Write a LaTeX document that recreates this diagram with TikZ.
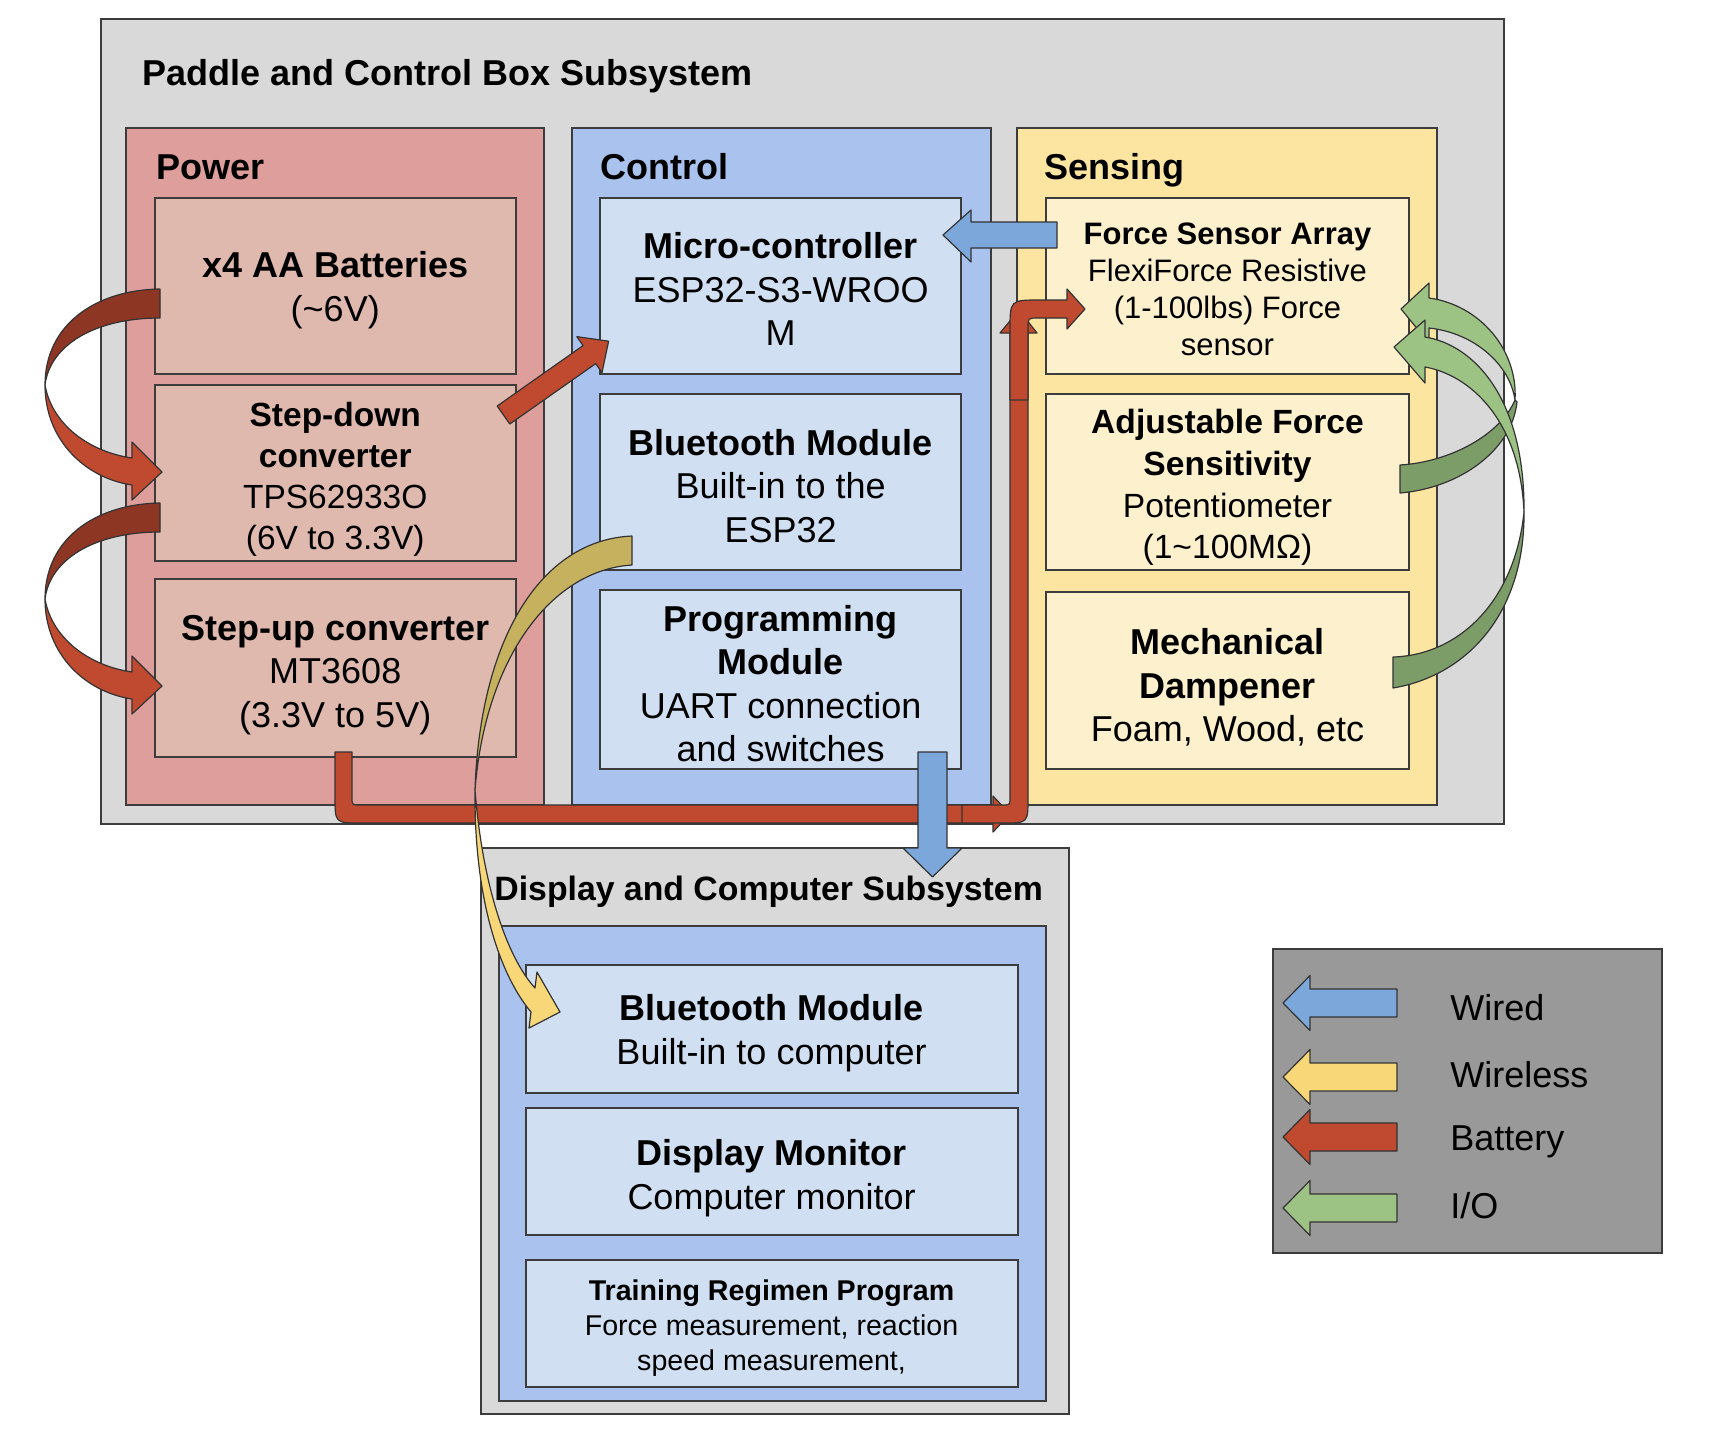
\documentclass[tikz,border=0pt]{standalone}
\usepackage{fontspec}
\setmainfont{Liberation Sans}
\usetikzlibrary{fit}
\definecolor{outergray}{HTML}{D9D9D9}
\definecolor{bordc}{HTML}{3C3C3C}
\definecolor{powbg}{HTML}{DE9E9B}
\definecolor{pownode}{HTML}{DFB8AE}
\definecolor{ctlbg}{HTML}{A9C2EE}
\definecolor{ctlnode}{HTML}{D0DFF1}
\definecolor{senbg}{HTML}{FCE5A1}
\definecolor{sennode}{HTML}{FDF0CD}
\definecolor{leggray}{HTML}{999999}
\definecolor{arblue}{HTML}{7BA7DA}
\definecolor{aryellow}{HTML}{F8D778}
\definecolor{aryellowdk}{HTML}{C6B15E}
\definecolor{arred}{HTML}{C04A30}
\definecolor{arreddk}{HTML}{8E3624}
\definecolor{argreen}{HTML}{9DC384}
\definecolor{argreendk}{HTML}{7D9D68}
\newcommand{\legarrow}[2]{%
  \path[ashape, fill=#1] (1397,{#2-14}) -- (1310,{#2-14}) -- (1310,{#2-27.5}) -- (1283,#2) -- (1310,{#2+27.5}) -- (1310,{#2+14}) -- (1397,{#2+14}) -- cycle;}
\newcommand{\redcurl}{%
  \path[ashape, fill=arreddk] (160,289) .. controls (95,290) and (45,325) .. (45,385) .. controls (50,345) and (95,318) .. (160,318) -- cycle;
  \path[ashape, fill=arred] (45,385) .. controls (45,440) and (85,478) .. (132,485) -- (132,500) -- (162,472) -- (132,442) -- (132,458) .. controls (90,452) and (52,425) .. (45,385) -- cycle;}
% box node with its text, text shifted down by #5
\newcommand{\bx}[6]{%
  \node[box,#1,minimum height=#2] (#3) at #4 {};
  \node[#1,txt] (#3t) at ([yshift=-#5]#3.center) {#6};}
\begin{document}
\begin{tikzpicture}[x=0.5pt,y=-0.5pt,
  group/.style={draw=bordc, line width=1pt, inner sep=0pt},
  box/.style={draw=bordc, line width=1pt, inner sep=0pt},
  txt/.style={draw=none, fill=none, minimum width=0pt, minimum height=0pt, inner sep=0pt, align=center, text=black},
  pcol/.style={minimum width=180.75pt, fill=pownode},
  ccol/.style={minimum width=180.3pt, fill=ctlnode},
  scol/.style={minimum width=181.5pt, fill=sennode},
  dcol/.style={minimum width=246.05pt, fill=ctlnode},
  fs/.style={font=\fontsize{18}{21.8}\selectfont},
  title/.style={inner sep=0pt, anchor=base west, font=\bfseries\fontsize{18}{21.8}\selectfont},
  ashape/.style={draw=black!80, line width=0.6pt, line join=round}]
\useasboundingbox (0,0) rectangle (1712,1436);
\fill[white] (0,0) rectangle (1712,1436);

% Paddle and Control Box Subsystem
\node[group, fill=outergray, fit={(101,19) (1504,824)}] (paddle) {};
\node[title] (paddlet) at (142,85) {Paddle and Control Box Subsystem};

\node[group, fill=powbg, fit={(125.5,128) (544,805)}] (power) {};
\node[title] (powert) at (155.6,179) {Power};
\node[group, fill=ctlbg, fit={(571.5,128) (991,805)}] (control) {};
\node[title] (controlt) at (600.4,179) {Control};
\node[group, fill=senbg, fit={(1017,128) (1437,805)}] (sensing) {};
\node[title] (sensingt) at (1044,179) {Sensing};

\bx{pcol, fs}{88.2pt}{bat}{(335.25,285.8)}{2.2pt}{\textbf{x4 AA Batteries}\\(\textasciitilde6V)}
\bx{pcol, font=\fontsize{16.75}{20.35}\selectfont}{87.8pt}{sdown}{(335.25,472.8)}{3.25pt}{\textbf{Step-down}\\\textbf{converter}\\TPS62933O\\(6V to 3.3V)}
\bx{pcol, fs}{89.2pt}{sup}{(335.25,667.8)}{3.5pt}{\textbf{Step-up converter}\\MT3608\\(3.3V to 5V)}

\bx{ccol, fs}{88.2pt}{mcu}{(780.7,285.8)}{1.75pt}{\textbf{Micro-controller}\\ESP32-S3-WROO\\M}
\bx{ccol, fs}{88pt}{bt}{(780.7,482)}{2pt}{\textbf{Bluetooth Module}\\Built-in to the\\ESP32}
\bx{ccol, fs}{89.75pt}{prog}{(780.7,679.25)}{2.2pt}{\textbf{Programming}\\\textbf{Module}\\UART connection\\and switches}

\bx{scol, font=\fontsize{15.5}{18.5}\selectfont}{88.2pt}{fsa}{(1227.5,285.8)}{1.65pt}{\textbf{Force Sensor Array}\\FlexiForce Resistive\\(1-100lbs) Force\\sensor}
\bx{scol, font=\fontsize{16.8}{20.9}\selectfont}{88pt}{adj}{(1227.5,482)}{2.75pt}{\textbf{Adjustable Force}\\\textbf{Sensitivity}\\Potentiometer\\(1\textasciitilde100MΩ)}
\bx{scol, fs}{88.3pt}{mech}{(1227.5,680.3)}{3.5pt}{\textbf{Mechanical}\\\textbf{Dampener}\\Foam, Wood, etc}

% Display and Computer Subsystem
\node[group, fill=outergray, fit={(481,848) (1069,1414)}] (display) {};
\node[title, font=\bfseries\fontsize{16.9}{20}\selectfont] (displayt) at (494,900) {Display and Computer Subsystem};
\node[group, fill=ctlbg, fit={(499,926) (1046,1401)}] (dispin) {};
\bx{dcol, font=\fontsize{18}{22}\selectfont}{64pt}{dbt}{(771.55,1029)}{2.2pt}{\textbf{Bluetooth Module}\\Built-in to computer}
\bx{dcol, font=\fontsize{18}{22}\selectfont}{63.5pt}{dmon}{(771.55,1171.5)}{3.25pt}{\textbf{Display Monitor}\\Computer monitor}
\bx{dcol, font=\fontsize{14.3}{17.5}\selectfont}{63.5pt}{trp}{(771.55,1323.5)}{2.2pt}{\textbf{Training Regimen Program}\\Force measurement, reaction\\speed measurement,}

% Legend
\node[group, fill=leggray, fit={(1273,949) (1662,1253)}] (legend) {};
\legarrow{arblue}{1003}
\legarrow{aryellow}{1077}
\legarrow{arred}{1137}
\legarrow{argreen}{1208}
\node[inner sep=0pt, anchor=base west, fs] (lwired) at (1450,1020) {Wired};
\node[inner sep=0pt, anchor=base west, fs] (lwireless) at (1450,1087) {Wireless};
\node[inner sep=0pt, anchor=base west, fs] (lbattery) at (1450,1150) {Battery};
\node[inner sep=0pt, anchor=base west, fs] (lio) at (1450,1218) {I/O};

% Battery arrows (red)
\redcurl
\begin{scope}[shift={(0,214)}]\redcurl\end{scope}
\path[ashape, fill=arred] (497.2,406.0) -- (583.1,345.6) -- (576.8,336.6) -- (608.6,341.2) -- (602.0,372.6) -- (595.7,363.6) -- (509.8,424.0) -- cycle;
% step-up to force sensor route
\path[ashape, fill=arred] (335,752) -- (335,797) .. controls (335,823) .. (361,823) -- (993,823) -- (993,832) -- (1010,814) -- (993,796) -- (993,805) -- (360,805) .. controls (352,805) .. (352,797) -- (352,752) -- cycle;
\path[ashape, fill=arred] (962,805) -- (1002,805) .. controls (1010,805) .. (1010,797) -- (1010,333) -- (1000,333) -- (1019,310) -- (1037,333) -- (1028,333) -- (1028,798) .. controls (1028,823) .. (1003,823) -- (962,823) -- cycle;
\path[ashape, fill=arred] (1010,400) -- (1010,330) .. controls (1010,300) .. (1040,300) -- (1067,300) -- (1067,289) -- (1085,309) -- (1067,329) -- (1067,318) -- (1038,318) .. controls (1028,318) .. (1028,328) -- (1028,400) -- cycle;

% Wired arrows (blue)
\path[ashape, fill=arblue] (918,752) -- (947,752) -- (947,848) -- (962,848) -- (932.5,877) -- (903,848) -- (918,848) -- cycle;
\path[ashape, fill=arblue] (1057,222) -- (971,222) -- (971,210) -- (943,235) -- (971,262) -- (971,248) -- (1057,248) -- cycle;

% Wireless arrow (yellow)
\path[ashape, fill=aryellowdk] (632,536) .. controls (540,540) and (480,640) .. (475,790) .. controls (485,660) and (550,570) .. (632,565) -- cycle;
\path[ashape, fill=aryellow] (475,790) .. controls (474,900) and (500,975) .. (531,1012) -- (529,1028) -- (560,1012) -- (537,972) -- (535,988) .. controls (505,955) and (482,880) .. (475,790) -- cycle;

% I/O arrows (green)
\path[ashape, fill=argreendk] (1400,465) .. controls (1450,462) and (1500,435) .. (1515,400) -- (1517,402) .. controls (1512,450) and (1460,488) .. (1400,493) -- cycle;
\path[ashape, fill=argreen] (1515,400) .. controls (1518,350) and (1480,305) .. (1429,298) -- (1429,283) -- (1401,309) -- (1429,343) -- (1429,328) .. controls (1475,333) and (1510,365) .. (1515,400) -- cycle;
\path[ashape, fill=argreendk] (1393,657) .. controls (1460,655) and (1515,600) .. (1524,512) .. controls (1525,610) and (1470,675) .. (1393,688) -- cycle;
\path[ashape, fill=argreen] (1524,512) .. controls (1525,400) and (1475,345) .. (1425,337) -- (1425,320) -- (1394,347) -- (1425,383) -- (1425,367) .. controls (1470,375) and (1520,420) .. (1524,512) -- cycle;
\end{tikzpicture}
\end{document}
